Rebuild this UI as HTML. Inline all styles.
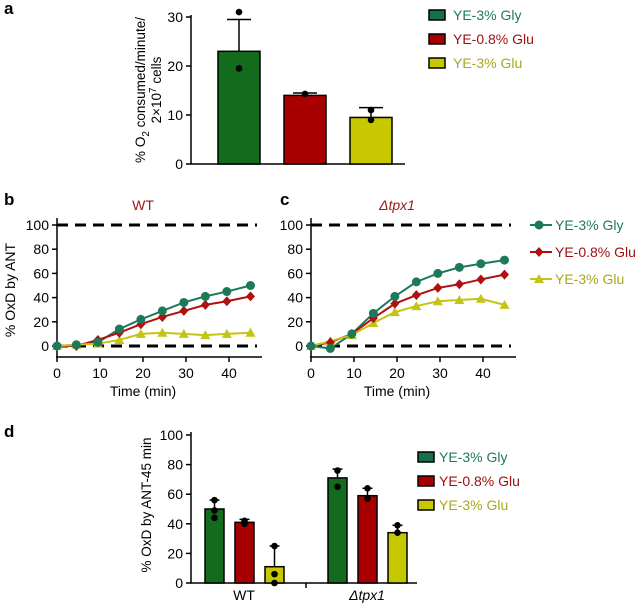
<!DOCTYPE html>
<html><head><meta charset="utf-8"><style>
body{margin:0;background:#fff}
svg{display:block;font-family:"Liberation Sans",sans-serif}
</style></head><body>
<svg id="fig" width="637" height="603" viewBox="0 0 637 603"></svg>
<script>
// Panel a data
const aCats=["YE-3% Gly","YE-0.8% Glu","YE-3% Glu"];
const aVals=[23,14,9.5];
const aErr=[29.5,14.5,11.5];
const aDots=[[31,19.5],[14.3],[11,9]];
// Panel b/c data
const times=[0,4.5,9.5,14.5,19.5,24.5,29.5,34.5,39.5,45];
const wtGly=[0,1,3,14,22,29,36,41,45,50];
const wtGlu08=[0,0,5,11,18,24,29,34,37,41];
const wtGlu3=[0,1,2,5,10,11,10,9,10,11];
const tpGly=[0,-2,10,27,41,53,60,65,68,71];
const tpGlu08=[0,3,10,23,35,42,48,51,55,59];
const tpGlu3=[0,4,9,19,28,33,37,38,39,34];
const xTicks=[0,10,20,30,40];
const yTicksLine=[0,20,40,60,80,100];
// Panel d data
const dGroups=["WT","Δtpx1"];
const dVals=[[50,41,11],[71,59,34]];
const dErr=[[56,43,25],[77,64,39]];
const dDots=[[[56,44,49],[42,40],[25,6,0]],[[76,65],[64,57],[39,34]]];
const dTicks=[0,20,40,60,80,100];
const aTicks=[0,10,20,30];

const NS="http://www.w3.org/2000/svg";
const svg=document.getElementById('fig');
function el(t,a,p){const e=document.createElementNS(NS,t);for(const k in a)e.setAttribute(k,a[k]);(p||svg).appendChild(e);return e;}
function txt(s,a,p){const e=el('text',a,p);e.textContent=s;return e;}
const barCol=["#136b1e","#a80000","#c8c800"];
const legCol=["#15704a","#a80000","#c8c800"];
const txtCol=["#1e7a5a","#a01010","#a8a820"];
const lineCol=["#1d7a58","#b01010","#c4c414"];

// panel labels
[["a",4,14],["b",4,205],["c",280,205],["d",4,437]].forEach(([s,x,y])=>{
 const t=txt(s,{x:x,y:y,'font-size':17,'font-weight':'bold'});
 
 
});

// ---- Panel a
{
 const g=el('g',{});
 
 
 const y=v=>164-v*4.9;
 el('line',{x1:191,y1:15,x2:191,y2:164,stroke:'#000','stroke-width':1.5},g);
 el('line',{x1:190,y1:164,x2:405,y2:164,stroke:'#000','stroke-width':1.5},g);
 aTicks.forEach(v=>{
  el('line',{x1:186,y1:y(v),x2:191,y2:y(v),stroke:'#000','stroke-width':1.5},g);
  const t=txt(v,{x:183,y:y(v)+5,'font-size':14,'text-anchor':'end'},g);
  
  
 });
 const yl=txt('',{transform:'translate(145,90) rotate(-90)','font-size':13.5,'text-anchor':'middle'},g);
 
 
 yl.innerHTML='<tspan>% O</tspan><tspan dy="4" font-size="10">2</tspan><tspan dy="-4"> consumed/minute/</tspan>';
 const yl2=txt('',{transform:'translate(161,90) rotate(-90)','font-size':13.5,'text-anchor':'middle'},g);
 yl2.innerHTML='<tspan>2×10</tspan><tspan dy="-5" font-size="10">7</tspan><tspan dy="5"> cells</tspan>';
 
 
 aVals.forEach((v,i)=>{
  const x0=218+i*66, w=42, cx=x0+w/2;
  el('line',{x1:cx,y1:y(v),x2:cx,y2:y(aErr[i]),stroke:'#000','stroke-width':1.5},g);
  el('line',{x1:cx-12,y1:y(aErr[i]),x2:cx+12,y2:y(aErr[i]),stroke:'#000','stroke-width':1.5},g);
  const b=el('rect',{x:x0,y:y(v),width:w,height:164-y(v),fill:barCol[i],stroke:'#000','stroke-width':1.5},g);
  
  
  aDots[i].forEach(d=>{el('circle',{cx:cx,cy:y(d),r:3.3,fill:'#000'},g);});
 });
 aCats.forEach((c,i)=>{
  const lg=el('g',{},g);
  
  
  el('rect',{x:429,y:10+i*24,width:16,height:10,fill:legCol[i],stroke:'#000','stroke-width':1.5},lg);
  txt(c,{x:453,y:20+i*24,'font-size':14,fill:txtCol[i]},lg);
 });
}

// ---- Line panels
function marker(g,kind,x,y,c){
 if(kind===0) el('circle',{cx:x,cy:y,r:4.5,fill:c},g);
 else if(kind===1) el('polygon',{points:`${x},${y-5} ${x+4.5},${y} ${x},${y+5} ${x-4.5},${y}`,fill:c},g);
 else el('polygon',{points:`${x},${y-5} ${x+5},${y+4} ${x-5},${y+4}`,fill:c},g);
}
function linePanel(name,x0,title,italic,series){
 const g=el('g',{});
 
 
 const X=t=>x0+t*4.3, Y=v=>346-v*1.21;
 el('line',{x1:x0,y1:218,x2:x0,y2:357,stroke:'#000','stroke-width':1.5},g);
 el('line',{x1:x0-1,y1:357,x2:x0+205,y2:357,stroke:'#000','stroke-width':1.5},g);
 xTicks.forEach(v=>{
  el('line',{x1:X(v),y1:357,x2:X(v),y2:362,stroke:'#000','stroke-width':1.5},g);
  const t=txt(v,{x:X(v),y:378,'font-size':14,'text-anchor':'middle'},g);
  
  
 });
 yTicksLine.forEach(v=>{
  el('line',{x1:x0-5,y1:Y(v),x2:x0,y2:Y(v),stroke:'#000','stroke-width':1.5},g);
  const t=txt(v,{x:x0-8,y:Y(v)+5,'font-size':14,'text-anchor':'end'},g);
  
  
 });
 [0,100].forEach(v=>el('line',{x1:x0,y1:Y(v),x2:x0+200,y2:Y(v),stroke:'#000','stroke-width':3,'stroke-dasharray':'11,7'},g));
 const xt=txt('Time (min)',{x:x0+86,y:396,'font-size':14,'text-anchor':'middle'},g);
 
 
 const tt=txt(title,{x:x0+86,y:210,'font-size':14,'text-anchor':'middle',fill:'#a01818','font-style':italic?'italic':'normal'},g);
 
 
 series.forEach((s,k)=>{
  const p=el('polyline',{points:times.map((t,i)=>X(t)+','+Y(s[i])).join(' '),fill:'none',stroke:lineCol[k],'stroke-width':2},g);
  
  
 });
 series.slice().reverse().forEach((s,rk)=>{const k=2-rk;times.forEach((t,i)=>marker(g,k,X(t),Y(s[i]),lineCol[k]));});
 return g;
}
linePanel('panel-b-wt-line-chart',57,'WT',false,[wtGly,wtGlu08,wtGlu3]);
const gc=linePanel('panel-c-tpx1-line-chart',311,'Δtpx1',true,[tpGly,tpGlu08,tpGlu3]);
const yb=txt('% OxD by ANT',{transform:'translate(15,290) rotate(-90)','font-size':14,'text-anchor':'middle'});


aCats.forEach((c,i)=>{
 const lg=el('g',{});
 
 
 const y=225+i*27;
 el('line',{x1:530,y1:y,x2:552,y2:y,stroke:lineCol[i],'stroke-width':2},lg);
 marker(lg,i,539,y,lineCol[i]);
 txt(c,{x:555,y:y+5,'font-size':14,fill:txtCol[i]},lg);
});

// ---- Panel d
{
 const g=el('g',{});
 
 
 const y=v=>583-v*1.48;
 el('line',{x1:191,y1:432,x2:191,y2:583,stroke:'#000','stroke-width':1.5},g);
 el('line',{x1:190,y1:583,x2:417,y2:583,stroke:'#000','stroke-width':1.5},g);
 el('line',{x1:306,y1:583,x2:306,y2:588,stroke:'#000','stroke-width':1.5},g);
 dTicks.forEach(v=>{
  el('line',{x1:186,y1:y(v),x2:191,y2:y(v),stroke:'#000','stroke-width':1.5},g);
  const t=txt(v,{x:183,y:y(v)+5,'font-size':14,'text-anchor':'end'},g);
  
  
 });
 const yl=txt('% OxD by ANT-45 min',{transform:'translate(151,505) rotate(-90)','font-size':13.5,'text-anchor':'middle'},g);
 
 
 dGroups.forEach((gname,gi)=>{
  const gx=gi===0?205:328;
  dVals[gi].forEach((v,i)=>{
   const x0=gx+i*30, w=19, cx=x0+w/2;
   el('line',{x1:cx,y1:y(v),x2:cx,y2:y(dErr[gi][i]),stroke:'#000','stroke-width':1.5},g);
   el('line',{x1:cx-5,y1:y(dErr[gi][i]),x2:cx+5,y2:y(dErr[gi][i]),stroke:'#000','stroke-width':1.5},g);
   const b=el('rect',{x:x0,y:y(v),width:w,height:583-y(v),fill:barCol[i],stroke:'#000','stroke-width':1.5},g);
   
   
   dDots[gi][i].forEach(d=>el('circle',{cx:cx,cy:y(d),r:3.3,fill:'#000'},g));
  });
  const t=txt(gname,{x:gx+39,y:600,'font-size':14,'text-anchor':'middle','font-style':gi?'italic':'normal'},g);
  
  
 });
 aCats.forEach((c,i)=>{
  const lg=el('g',{},g);
  
  
  el('rect',{x:418,y:452+i*24,width:16,height:10,fill:legCol[i],stroke:'#000','stroke-width':1.5},lg);
  txt(c,{x:439,y:462+i*24,'font-size':14,fill:txtCol[i]},lg);
 });
}
</script>
</body></html>
